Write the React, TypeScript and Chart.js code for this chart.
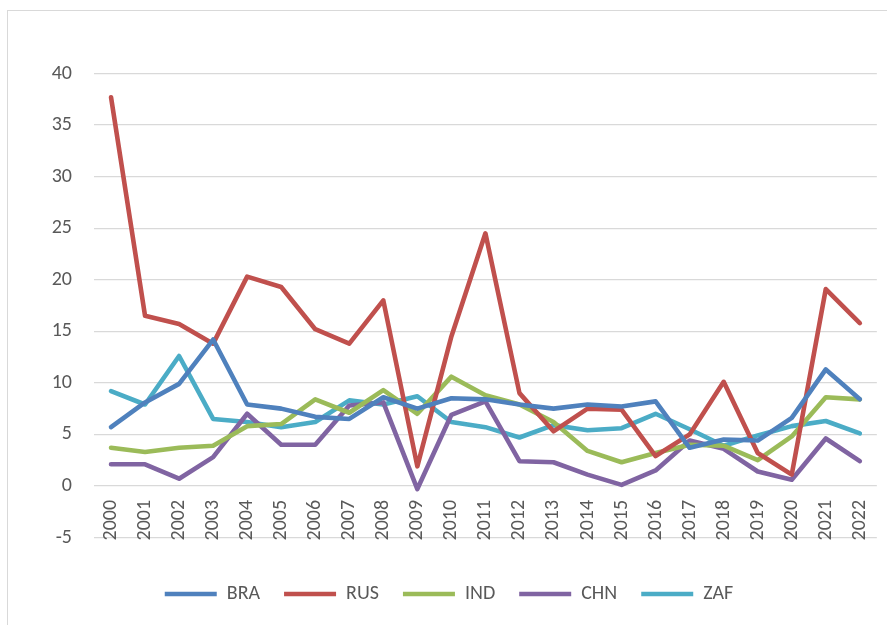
import React, { useEffect, useRef } from "react";
import { Chart, registerables } from "chart.js";

Chart.register(...registerables);

const years = ["2000","2001","2002","2003","2004","2005","2006","2007","2008","2009","2010","2011","2012","2013","2014","2015","2016","2017","2018","2019","2020","2021","2022"];
const BRA = [5.7, 8.1, 9.9, 14.2, 7.9, 7.5, 6.7, 6.5, 8.6, 7.5, 8.5, 8.4, 7.9, 7.5, 7.9, 7.7, 8.2, 3.7, 4.5, 4.4, 6.6, 11.3, 8.4];
const RUS = [37.7, 16.5, 15.7, 13.8, 20.3, 19.3, 15.2, 13.8, 18.0, 1.9, 14.5, 24.5, 9.0, 5.3, 7.5, 7.4, 2.9, 5.0, 10.1, 3.2, 1.1, 19.1, 15.8];
const IND = [3.7, 3.3, 3.7, 3.9, 5.8, 6.0, 8.4, 7.1, 9.3, 7.0, 10.6, 8.8, 7.9, 6.2, 3.4, 2.3, 3.2, 4.0, 3.9, 2.5, 4.8, 8.6, 8.4];
const CHN = [2.1, 2.1, 0.7, 2.8, 7.0, 4.0, 4.0, 7.8, 8.1, -0.3, 6.9, 8.2, 2.4, 2.3, 1.1, 0.1, 1.5, 4.4, 3.6, 1.4, 0.6, 4.6, 2.4];
const ZAF = [9.2, 7.9, 12.6, 6.5, 6.2, 5.7, 6.2, 8.3, 7.9, 8.7, 6.2, 5.7, 4.7, 5.9, 5.4, 5.6, 7.0, 5.5, 3.9, 4.9, 5.8, 6.3, 5.1];
const seriesNames = ["BRA", "RUS", "IND", "CHN", "ZAF"];
const seriesColors = ["#4F81BD", "#C0504D", "#9BBB59", "#8064A2", "#4BACC6"];
const yMin = -5;
const yMax = 40;
const yStep = 5;

const FONT = "Carlito, Calibri, Lato, sans-serif";

export default function App() {
  const ref = useRef<HTMLCanvasElement | null>(null);

  useEffect(() => {
    if (!ref.current) return;
    const data = [BRA, RUS, IND, CHN, ZAF];
    const chart = new Chart(ref.current, {
      type: "line",
      data: {
        labels: years,
        datasets: seriesNames.map((name, i) => ({
          label: name,
          data: data[i],
          borderColor: seriesColors[i],
          backgroundColor: seriesColors[i],
          borderWidth: 4.6,
          pointRadius: 0,
          pointHoverRadius: 0,
          tension: 0,
          borderCapStyle: "round" as const,
          borderJoinStyle: "round" as const,
          fill: false,
        })),
      },
      options: {
        animation: false,
        responsive: false,
        maintainAspectRatio: false,
        layout: { padding: { left: 0, right: 8, top: 62.5, bottom: 27 } },
        plugins: {
          tooltip: { enabled: false },
          legend: {
            position: "bottom",
            align: "center",
            title: { display: true, text: " ", padding: { top: 21.3, bottom: 0 }, font: { size: 1 } },
            labels: {
              usePointStyle: true,
              pointStyle: "line",
              pointStyleWidth: 52,
              padding: 24,
              color: "#595959",
              font: { size: 20, family: FONT },
            },
          },
        },
        scales: {
          x: {
            type: "category",
            position: { y: 0 } as any,
            offset: true,
            grid: { display: false, drawTicks: false },
            border: { display: false },
            ticks: {
              color: "#595959",
              font: { size: 20, family: FONT },
              maxRotation: 90,
              minRotation: 90,
              padding: 14,
              autoSkip: false,
            },
          },
          y: {
            min: yMin,
            max: yMax,
            grid: { color: "#d9d9d9", lineWidth: 1.2, drawTicks: false },
            border: { display: false },
            ticks: {
              stepSize: yStep,
              color: "#595959",
              font: { size: 20, family: FONT },
              padding: 22,
            },
            afterFit: (scale: any) => {
              scale.width = 86;
            },
          },
        },
      },
    });
    return () => chart.destroy();
  }, []);

  return (
    <div style={{ position: "fixed", left: 0, top: 0, width: 887, height: 625, overflow: "hidden", background: "#fff" }}>
      <div
        style={{
          position: "absolute",
          left: 7,
          top: 10,
          width: 900,
          height: 660,
          border: "1px solid #d9d9d9",
          boxSizing: "border-box",
        }}
      >
        <canvas ref={ref} width={890} height={630} style={{ position: "absolute", left: 0, top: 0, width: 890, height: 630 }} />
      </div>
    </div>
  );
}
